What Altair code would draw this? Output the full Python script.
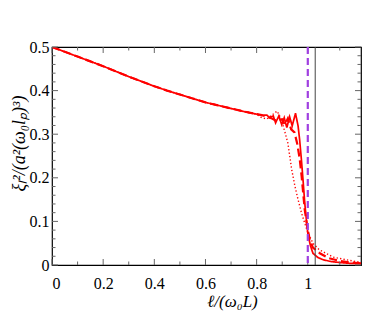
import altair as alt
import pandas as pd

# shared smooth part of the three curves
x_base = [0, 0.05, 0.1, 0.15, 0.2, 0.25, 0.3, 0.35, 0.4, 0.45, 0.5, 0.55, 0.6, 0.65, 0.7, 0.75, 0.8]
y_base = [0.500, 0.489, 0.478, 0.467, 0.456, 0.444, 0.432, 0.421, 0.410, 0.400, 0.391, 0.382, 0.373, 0.366, 0.359, 0.352, 0.346]

# solid tail
x_solid = [0.82, 0.84, 0.85, 0.865, 0.874, 0.887, 0.898, 0.908, 0.918, 0.929, 0.939, 0.952, 0.962, 0.968, 0.975,
           0.982, 0.988, 0.995, 1.0, 1.01, 1.02, 1.04, 1.06, 1.09, 1.12, 1.16, 1.2, 1.208]
y_solid = [0.343, 0.344, 0.338, 0.342, 0.326, 0.342, 0.322, 0.338, 0.315, 0.340, 0.319, 0.348, 0.319, 0.288, 0.242,
           0.190, 0.143, 0.100, 0.073, 0.045, 0.027, 0.017, 0.012, 0.008, 0.006, 0.004, 0.003, 0.003]

# dashed tail
x_dash = [0.82, 0.84, 0.86, 0.88, 0.90, 0.91, 0.922, 0.935, 0.948, 0.958, 0.968, 0.976, 0.988, 1.0, 1.008,
          1.02, 1.047, 1.08, 1.12, 1.16, 1.208]
y_dash = [0.344, 0.340, 0.336, 0.330, 0.334, 0.322, 0.336, 0.311, 0.304, 0.280, 0.245, 0.203, 0.127, 0.080, 0.058,
          0.040, 0.027, 0.016, 0.010, 0.006, 0.004]

# dotted tail
x_dot = [0.82, 0.84, 0.86, 0.88, 0.895, 0.911, 0.922, 0.937, 0.95, 0.962, 0.975, 0.988, 1.0, 1.02, 1.045,
         1.07, 1.1, 1.15, 1.208]
y_dot = [0.338, 0.335, 0.344, 0.353, 0.336, 0.304, 0.280, 0.219, 0.180, 0.150, 0.120, 0.096, 0.075, 0.050, 0.035,
         0.027, 0.018, 0.012, 0.006]

# reference lines
x_purple = [1.0]
x_black = [1.029]

# ticks and labels
x_major = [0, 0.2, 0.4, 0.6, 0.8, 1.0]
x_minor = [0.1, 0.3, 0.5, 0.7, 0.9, 1.125]
y_major = [0, 0.1, 0.2, 0.3, 0.4, 0.5]
y_minor = [0.02, 0.04, 0.06, 0.08, 0.12, 0.14, 0.16, 0.18, 0.22, 0.24, 0.26, 0.28,
           0.32, 0.34, 0.36, 0.38, 0.42, 0.44, 0.46, 0.48]

W, H = 309, 218
XMAX = 1.208
FONT = "Liberation Serif"

rows = []
for name, xs, ys in [("solid", x_solid, y_solid), ("dash", x_dash, y_dash), ("dot", x_dot, y_dot)]:
    for i, (a, b) in enumerate(zip(x_base + xs, y_base + ys)):
        rows.append({"x": a, "y": b, "s": name, "o": i})
df = pd.DataFrame(rows)

xs = alt.Scale(domain=[0, XMAX], nice=False, zero=False)
ys = alt.Scale(domain=[0, 0.5], nice=False, zero=False)

xaxis = alt.Axis(values=x_major, format="~g", ticks=False, domain=False, grid=False,
                 labelFont=FONT, labelFontSize=16, labelColor="black", labelPadding=10,
                 title="ℓ/(ω₀L)", titleFont=FONT, titleFontSize=17, titleFontStyle="italic",
                 titleFontWeight="normal", titleColor="black", titleX=180, titleY=36,
                 titleBaseline="middle", titleAlign="center")
yaxis = alt.Axis(values=y_major, format="~g", ticks=False, domain=False, grid=False,
                 labelFont=FONT, labelFontSize=16, labelColor="black", labelPadding=3,
                 title="ξₗ²/(a²(ω₀lₚ)³)", titleFont=FONT, titleFontSize=18, titleFontStyle="italic",
                 titleFontWeight="normal", titleColor="black", titleX=-33, titleY=96,
                 titleBaseline="middle", titleAlign="center", titleAngle=-90)

def line(name, dash, width):
    return alt.Chart(df[df.s == name]).mark_line(color="#ff0000", strokeDash=dash, strokeWidth=width, clip=True).encode(
        x=alt.X("x:Q", scale=xs, axis=xaxis),
        y=alt.Y("y:Q", scale=ys, axis=yaxis),
        order="o:Q",
    )

dot_l = line("dot", [1.3, 2.2], 1.4)
dash_l = line("dash", [8, 4], 2.2)
solid_l = line("solid", [1, 0], 1.7)

purple = alt.Chart(pd.DataFrame({"x": x_purple})).mark_rule(color="#a040e0", strokeWidth=2.2, strokeDash=[7, 4]).encode(
    x=alt.X("x:Q", scale=xs))
black = alt.Chart(pd.DataFrame({"x": x_black})).mark_rule(color="#444444", strokeWidth=1).encode(
    x=alt.X("x:Q", scale=xs))

TC = "#666666"
def xticks(vals, L):
    d = alt.Chart(pd.DataFrame({"x": vals}))
    b = d.mark_rule(color=TC, strokeWidth=1).encode(x=alt.X("x:Q", scale=xs), y=alt.value(H), y2=alt.value(H - L))
    t = d.mark_rule(color=TC, strokeWidth=1).encode(x=alt.X("x:Q", scale=xs), y=alt.value(0), y2=alt.value(L))
    return [b, t]

def yticks(vals, L):
    d = alt.Chart(pd.DataFrame({"y": vals}))
    l = d.mark_rule(color=TC, strokeWidth=1).encode(y=alt.Y("y:Q", scale=ys), x=alt.value(0), x2=alt.value(L))
    r = d.mark_rule(color=TC, strokeWidth=1).encode(y=alt.Y("y:Q", scale=ys), x=alt.value(W), x2=alt.value(W - L))
    return [l, r]

layers = [dot_l, dash_l, solid_l] + xticks(x_major, 6) + xticks(x_minor, 3.5) + yticks(y_major, 6) + yticks(y_minor, 3.5) + [purple, black]

chart = alt.layer(*layers).properties(
    width=W, height=H,
    autosize=alt.AutoSizeParams(type="none"),
    padding={"left": 44, "top": 39, "right": 5, "bottom": 49},
).configure_view(stroke="black", strokeWidth=1.2)

chart.save("out.html", embed_options={"renderer": "svg", "actions": False})
